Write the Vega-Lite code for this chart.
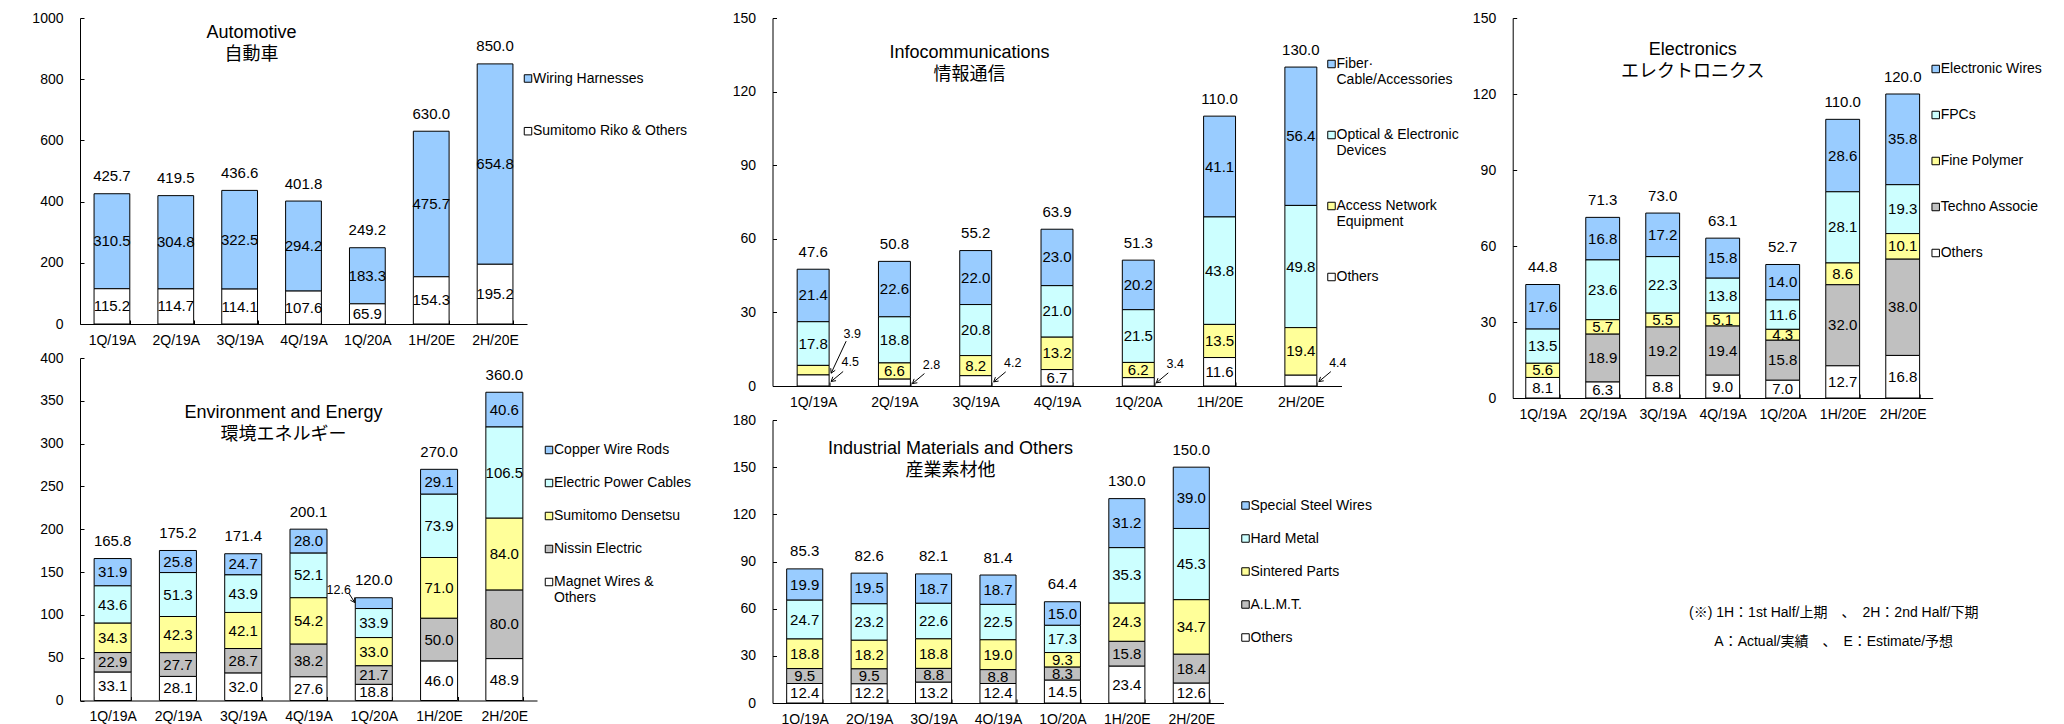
{
  "$schema": "https://vega.github.io/schema/vega-lite/v6.json",
  "padding": {"left": 31, "top": 11, "right": 0, "bottom": 0},
  "background": "white",
  "config": {
    "font": "Liberation Sans, Noto Sans CJK JP, sans-serif",
    "view": {"stroke": null},
    "axis": {"labelFont": "Liberation Sans, Noto Sans CJK JP, sans-serif", "labelFontSize": 14, "labelColor": "#000", "domainColor": "#000", "tickColor": "#000", "grid": false, "title": null, "tickSize": -4, "domainWidth": 1, "tickWidth": 1},
    "axisX": {"labelAngle": 0, "tickBand": "extent", "labelPadding": 13},
    "axisY": {"labelPadding": 21, "format": "d"},
    "legend": {"title": null, "labelFont": "Liberation Sans, Noto Sans CJK JP, sans-serif", "labelFontSize": 14, "labelColor": "#000", "symbolType": "square", "symbolSize": 56, "symbolStrokeColor": "#000", "symbolStrokeWidth": 1, "labelOffset": -2, "padding": 0, "labelLimit": 300},
    "title": {"font": "Liberation Sans, Noto Sans CJK JP, sans-serif", "fontSize": 18, "fontWeight": "normal", "color": "#000", "lineHeight": 22, "anchor": "middle", "frame": "group", "baseline": "top", "offset": 0},
    "text": {"font": "Liberation Sans, Noto Sans CJK JP, sans-serif", "fontSize": 15, "color": "#000"},
    "bar": {"stroke": "#000", "strokeWidth": 1}
  },
  "datasets": {
    "auto": [
      {"period": "1Q/19A", "segment": "Wiring Harnesses", "value": 310.5},
      {"period": "1Q/19A", "segment": "Sumitomo Riko & Others", "value": 115.2},
      {"period": "2Q/19A", "segment": "Wiring Harnesses", "value": 304.8},
      {"period": "2Q/19A", "segment": "Sumitomo Riko & Others", "value": 114.7},
      {"period": "3Q/19A", "segment": "Wiring Harnesses", "value": 322.5},
      {"period": "3Q/19A", "segment": "Sumitomo Riko & Others", "value": 114.1},
      {"period": "4Q/19A", "segment": "Wiring Harnesses", "value": 294.2},
      {"period": "4Q/19A", "segment": "Sumitomo Riko & Others", "value": 107.6},
      {"period": "1Q/20A", "segment": "Wiring Harnesses", "value": 183.3},
      {"period": "1Q/20A", "segment": "Sumitomo Riko & Others", "value": 65.9},
      {"period": "1H/20E", "segment": "Wiring Harnesses", "value": 475.7},
      {"period": "1H/20E", "segment": "Sumitomo Riko & Others", "value": 154.3},
      {"period": "2H/20E", "segment": "Wiring Harnesses", "value": 654.8},
      {"period": "2H/20E", "segment": "Sumitomo Riko & Others", "value": 195.2}
    ],
    "env": [
      {"period": "1Q/19A", "segment": "Copper Wire Rods", "value": 31.9},
      {"period": "1Q/19A", "segment": "Electric Power Cables", "value": 43.6},
      {"period": "1Q/19A", "segment": "Sumitomo Densetsu", "value": 34.3},
      {"period": "1Q/19A", "segment": "Nissin Electric", "value": 22.9},
      {"period": "1Q/19A", "segment": "Magnet Wires & Others", "value": 33.1},
      {"period": "2Q/19A", "segment": "Copper Wire Rods", "value": 25.8},
      {"period": "2Q/19A", "segment": "Electric Power Cables", "value": 51.3},
      {"period": "2Q/19A", "segment": "Sumitomo Densetsu", "value": 42.3},
      {"period": "2Q/19A", "segment": "Nissin Electric", "value": 27.7},
      {"period": "2Q/19A", "segment": "Magnet Wires & Others", "value": 28.1},
      {"period": "3Q/19A", "segment": "Copper Wire Rods", "value": 24.7},
      {"period": "3Q/19A", "segment": "Electric Power Cables", "value": 43.9},
      {"period": "3Q/19A", "segment": "Sumitomo Densetsu", "value": 42.1},
      {"period": "3Q/19A", "segment": "Nissin Electric", "value": 28.7},
      {"period": "3Q/19A", "segment": "Magnet Wires & Others", "value": 32.0},
      {"period": "4Q/19A", "segment": "Copper Wire Rods", "value": 28.0},
      {"period": "4Q/19A", "segment": "Electric Power Cables", "value": 52.1},
      {"period": "4Q/19A", "segment": "Sumitomo Densetsu", "value": 54.2},
      {"period": "4Q/19A", "segment": "Nissin Electric", "value": 38.2},
      {"period": "4Q/19A", "segment": "Magnet Wires & Others", "value": 27.6},
      {"period": "1Q/20A", "segment": "Copper Wire Rods", "value": 12.6},
      {"period": "1Q/20A", "segment": "Electric Power Cables", "value": 33.9},
      {"period": "1Q/20A", "segment": "Sumitomo Densetsu", "value": 33.0},
      {"period": "1Q/20A", "segment": "Nissin Electric", "value": 21.7},
      {"period": "1Q/20A", "segment": "Magnet Wires & Others", "value": 18.8},
      {"period": "1H/20E", "segment": "Copper Wire Rods", "value": 29.1},
      {"period": "1H/20E", "segment": "Electric Power Cables", "value": 73.9},
      {"period": "1H/20E", "segment": "Sumitomo Densetsu", "value": 71.0},
      {"period": "1H/20E", "segment": "Nissin Electric", "value": 50.0},
      {"period": "1H/20E", "segment": "Magnet Wires & Others", "value": 46.0},
      {"period": "2H/20E", "segment": "Copper Wire Rods", "value": 40.6},
      {"period": "2H/20E", "segment": "Electric Power Cables", "value": 106.5},
      {"period": "2H/20E", "segment": "Sumitomo Densetsu", "value": 84.0},
      {"period": "2H/20E", "segment": "Nissin Electric", "value": 80.0},
      {"period": "2H/20E", "segment": "Magnet Wires & Others", "value": 48.9}
    ],
    "info": [
      {"period": "1Q/19A", "segment": "Fiber·Cable/Accessories", "value": 21.4},
      {"period": "1Q/19A", "segment": "Optical & Electronic Devices", "value": 17.8},
      {"period": "1Q/19A", "segment": "Access Network Equipment", "value": 3.9},
      {"period": "1Q/19A", "segment": "Others", "value": 4.5},
      {"period": "2Q/19A", "segment": "Fiber·Cable/Accessories", "value": 22.6},
      {"period": "2Q/19A", "segment": "Optical & Electronic Devices", "value": 18.8},
      {"period": "2Q/19A", "segment": "Access Network Equipment", "value": 6.6},
      {"period": "2Q/19A", "segment": "Others", "value": 2.8},
      {"period": "3Q/19A", "segment": "Fiber·Cable/Accessories", "value": 22.0},
      {"period": "3Q/19A", "segment": "Optical & Electronic Devices", "value": 20.8},
      {"period": "3Q/19A", "segment": "Access Network Equipment", "value": 8.2},
      {"period": "3Q/19A", "segment": "Others", "value": 4.2},
      {"period": "4Q/19A", "segment": "Fiber·Cable/Accessories", "value": 23.0},
      {"period": "4Q/19A", "segment": "Optical & Electronic Devices", "value": 21.0},
      {"period": "4Q/19A", "segment": "Access Network Equipment", "value": 13.2},
      {"period": "4Q/19A", "segment": "Others", "value": 6.7},
      {"period": "1Q/20A", "segment": "Fiber·Cable/Accessories", "value": 20.2},
      {"period": "1Q/20A", "segment": "Optical & Electronic Devices", "value": 21.5},
      {"period": "1Q/20A", "segment": "Access Network Equipment", "value": 6.2},
      {"period": "1Q/20A", "segment": "Others", "value": 3.4},
      {"period": "1H/20E", "segment": "Fiber·Cable/Accessories", "value": 41.1},
      {"period": "1H/20E", "segment": "Optical & Electronic Devices", "value": 43.8},
      {"period": "1H/20E", "segment": "Access Network Equipment", "value": 13.5},
      {"period": "1H/20E", "segment": "Others", "value": 11.6},
      {"period": "2H/20E", "segment": "Fiber·Cable/Accessories", "value": 56.4},
      {"period": "2H/20E", "segment": "Optical & Electronic Devices", "value": 49.8},
      {"period": "2H/20E", "segment": "Access Network Equipment", "value": 19.4},
      {"period": "2H/20E", "segment": "Others", "value": 4.4}
    ],
    "ind": [
      {"period": "1Q/19A", "segment": "Special Steel Wires", "value": 19.9},
      {"period": "1Q/19A", "segment": "Hard Metal", "value": 24.7},
      {"period": "1Q/19A", "segment": "Sintered Parts", "value": 18.8},
      {"period": "1Q/19A", "segment": "A.L.M.T.", "value": 9.5},
      {"period": "1Q/19A", "segment": "Others", "value": 12.4},
      {"period": "2Q/19A", "segment": "Special Steel Wires", "value": 19.5},
      {"period": "2Q/19A", "segment": "Hard Metal", "value": 23.2},
      {"period": "2Q/19A", "segment": "Sintered Parts", "value": 18.2},
      {"period": "2Q/19A", "segment": "A.L.M.T.", "value": 9.5},
      {"period": "2Q/19A", "segment": "Others", "value": 12.2},
      {"period": "3Q/19A", "segment": "Special Steel Wires", "value": 18.7},
      {"period": "3Q/19A", "segment": "Hard Metal", "value": 22.6},
      {"period": "3Q/19A", "segment": "Sintered Parts", "value": 18.8},
      {"period": "3Q/19A", "segment": "A.L.M.T.", "value": 8.8},
      {"period": "3Q/19A", "segment": "Others", "value": 13.2},
      {"period": "4Q/19A", "segment": "Special Steel Wires", "value": 18.7},
      {"period": "4Q/19A", "segment": "Hard Metal", "value": 22.5},
      {"period": "4Q/19A", "segment": "Sintered Parts", "value": 19.0},
      {"period": "4Q/19A", "segment": "A.L.M.T.", "value": 8.8},
      {"period": "4Q/19A", "segment": "Others", "value": 12.4},
      {"period": "1Q/20A", "segment": "Special Steel Wires", "value": 15.0},
      {"period": "1Q/20A", "segment": "Hard Metal", "value": 17.3},
      {"period": "1Q/20A", "segment": "Sintered Parts", "value": 9.3},
      {"period": "1Q/20A", "segment": "A.L.M.T.", "value": 8.3},
      {"period": "1Q/20A", "segment": "Others", "value": 14.5},
      {"period": "1H/20E", "segment": "Special Steel Wires", "value": 31.2},
      {"period": "1H/20E", "segment": "Hard Metal", "value": 35.3},
      {"period": "1H/20E", "segment": "Sintered Parts", "value": 24.3},
      {"period": "1H/20E", "segment": "A.L.M.T.", "value": 15.8},
      {"period": "1H/20E", "segment": "Others", "value": 23.4},
      {"period": "2H/20E", "segment": "Special Steel Wires", "value": 39.0},
      {"period": "2H/20E", "segment": "Hard Metal", "value": 45.3},
      {"period": "2H/20E", "segment": "Sintered Parts", "value": 34.7},
      {"period": "2H/20E", "segment": "A.L.M.T.", "value": 18.4},
      {"period": "2H/20E", "segment": "Others", "value": 12.6}
    ],
    "elec": [
      {"period": "1Q/19A", "segment": "Electronic Wires", "value": 17.6},
      {"period": "1Q/19A", "segment": "FPCs", "value": 13.5},
      {"period": "1Q/19A", "segment": "Fine Polymer", "value": 5.6},
      {"period": "1Q/19A", "segment": "Others", "value": 8.1},
      {"period": "2Q/19A", "segment": "Electronic Wires", "value": 16.8},
      {"period": "2Q/19A", "segment": "FPCs", "value": 23.6},
      {"period": "2Q/19A", "segment": "Fine Polymer", "value": 5.7},
      {"period": "2Q/19A", "segment": "Techno Associe", "value": 18.9},
      {"period": "2Q/19A", "segment": "Others", "value": 6.3},
      {"period": "3Q/19A", "segment": "Electronic Wires", "value": 17.2},
      {"period": "3Q/19A", "segment": "FPCs", "value": 22.3},
      {"period": "3Q/19A", "segment": "Fine Polymer", "value": 5.5},
      {"period": "3Q/19A", "segment": "Techno Associe", "value": 19.2},
      {"period": "3Q/19A", "segment": "Others", "value": 8.8},
      {"period": "4Q/19A", "segment": "Electronic Wires", "value": 15.8},
      {"period": "4Q/19A", "segment": "FPCs", "value": 13.8},
      {"period": "4Q/19A", "segment": "Fine Polymer", "value": 5.1},
      {"period": "4Q/19A", "segment": "Techno Associe", "value": 19.4},
      {"period": "4Q/19A", "segment": "Others", "value": 9.0},
      {"period": "1Q/20A", "segment": "Electronic Wires", "value": 14.0},
      {"period": "1Q/20A", "segment": "FPCs", "value": 11.6},
      {"period": "1Q/20A", "segment": "Fine Polymer", "value": 4.3},
      {"period": "1Q/20A", "segment": "Techno Associe", "value": 15.8},
      {"period": "1Q/20A", "segment": "Others", "value": 7.0},
      {"period": "1H/20E", "segment": "Electronic Wires", "value": 28.6},
      {"period": "1H/20E", "segment": "FPCs", "value": 28.1},
      {"period": "1H/20E", "segment": "Fine Polymer", "value": 8.6},
      {"period": "1H/20E", "segment": "Techno Associe", "value": 32.0},
      {"period": "1H/20E", "segment": "Others", "value": 12.7},
      {"period": "2H/20E", "segment": "Electronic Wires", "value": 35.8},
      {"period": "2H/20E", "segment": "FPCs", "value": 19.3},
      {"period": "2H/20E", "segment": "Fine Polymer", "value": 10.1},
      {"period": "2H/20E", "segment": "Techno Associe", "value": 38.0},
      {"period": "2H/20E", "segment": "Others", "value": 16.8}
    ],
    "note": [
      {"line": 1, "text": "(※) 1H：1st Half/上期　、　2H：2nd Half/下期"},
      {"line": 2, "text": "A：Actual/実績　、　E：Estimate/予想"}
    ]
  },
  "hconcat": [
    {
      "hconcat": [
        {
          "vconcat": [
            {
              "width": 447, "height": 306,
              "data": {"name": "auto"},
              "transform": [{"window": [{"op": "row_number", "as": "rank"}], "groupby": ["period"]}],
              "title": {"text": ["Automotive", "自動車"], "dx": -52, "dy": 56.5},
              "encoding": {"x": {"field": "period", "type": "nominal", "sort": ["1Q/19A","2Q/19A","3Q/19A","4Q/19A","1Q/20A","1H/20E","2H/20E"], "scale": {"paddingInner": 0.44, "paddingOuter": 0.22}}},
              "layer": [
                {"mark": {"type": "bar"},
                 "encoding": {
                   "y": {"field": "value", "type": "quantitative", "stack": "zero", "scale": {"domain": [0, 1000], "nice": false}, "axis": {"values": [0, 200, 400, 600, 800, 1000]}},
                   "order": {"field": "rank", "type": "quantitative", "sort": "descending"},
                   "color": {"field": "segment", "type": "nominal", "scale": {"domain": ["Wiring Harnesses", "Sumitomo Riko & Others"], "range": ["#99CCFF", "#FFFFFF"]}, "legend": {"orient": "none", "legendX": 441, "legendY": 53.5, "rowPadding": 38.7}}
                 }},
                {"mark": {"type": "text"},
                 "encoding": {
                   "y": {"field": "value", "type": "quantitative", "stack": "zero", "bandPosition": 0.5},
                   "order": {"field": "rank", "type": "quantitative", "sort": "descending"},
                   "color": {"field": "segment", "type": "nominal", "scale": {"range": ["#000000"]}, "legend": null},
                   "text": {"field": "value", "type": "quantitative", "format": ".1f"}
                 }},
                {"mark": {"type": "text", "dy": -17.5},
                 "encoding": {
                   "y": {"aggregate": "sum", "field": "value", "type": "quantitative"},
                   "text": {"aggregate": "sum", "field": "value", "type": "quantitative", "format": ".1f"}
                 }}
              ],
              "resolve": {"scale": {"color": "independent"}}
            },
            {
              "width": 457, "height": 342.5,
              "data": {"name": "env"},
              "transform": [{"window": [{"op": "row_number", "as": "rank"}], "groupby": ["period"]}],
              "title": {"text": ["Environment and Energy", "環境エネルギー"], "dx": -25, "dy": 97},
              "encoding": {"x": {"field": "period", "type": "nominal", "sort": ["1Q/19A","2Q/19A","3Q/19A","4Q/19A","1Q/20A","1H/20E","2H/20E"], "scale": {"paddingInner": 0.433, "paddingOuter": 0.2165}}},
              "layer": [
                {"mark": {"type": "bar"},
                 "encoding": {
                   "y": {"field": "value", "type": "quantitative", "stack": "zero", "scale": {"domain": [0, 400], "nice": false}, "axis": {"values": [0, 50, 100, 150, 200, 250, 300, 350, 400]}},
                   "order": {"field": "rank", "type": "quantitative", "sort": "descending"},
                   "color": {"field": "segment", "type": "nominal", "scale": {"domain": ["Copper Wire Rods", "Electric Power Cables", "Sumitomo Densetsu", "Nissin Electric", "Magnet Wires & Others"], "range": ["#99CCFF", "#CCFFFF", "#FFFF99", "#C0C0C0", "#FFFFFF"]}, "legend": {"orient": "none", "legendX": 462, "legendY": 85, "rowPadding": 19, "labelExpr": "datum.label == 'Magnet Wires & Others' ? ['Magnet Wires &', 'Others'] : datum.label"}}
                 }},
                {"mark": {"type": "text"},
                 "encoding": {
                   "y": {"field": "value", "type": "quantitative", "stack": "zero", "bandPosition": 0.5},
                   "order": {"field": "rank", "type": "quantitative", "sort": "descending"},
                   "color": {"field": "segment", "type": "nominal", "scale": {"range": ["#000000"]}, "legend": null},
                   "text": {"condition": {"test": "datum.value < 13", "value": ""}, "field": "value", "type": "quantitative", "format": ".1f"}
                 }},
                {"mark": {"type": "text", "fontSize": 12.5, "dx": -35, "dy": -13},
                 "encoding": {
                   "y": {"field": "value", "type": "quantitative", "stack": "zero", "bandPosition": 0.5},
                   "order": {"field": "rank", "type": "quantitative", "sort": "descending"},
                   "color": {"field": "segment", "type": "nominal", "scale": {"range": ["#000000"]}, "legend": null},
                   "text": {"condition": {"test": "datum.value < 13", "field": "value", "type": "quantitative", "format": ".1f"}, "value": ""}
                 }},
                {"mark": {"type": "point", "shape": "M-25,-10L-19,-0.6M-19.2,-5.6L-19,-0.6L-23.4,-2.9", "size": 4, "filled": false, "strokeWidth": 1},
                 "encoding": {
                   "y": {"field": "value", "type": "quantitative", "stack": "zero", "bandPosition": 0.5},
                   "order": {"field": "rank", "type": "quantitative", "sort": "descending"},
                   "color": {"field": "segment", "type": "nominal", "scale": {"range": ["#000000"]}, "legend": null},
                   "opacity": {"condition": {"test": "datum.value < 13", "value": 1}, "value": 0}
                 }},
                {"mark": {"type": "text", "dy": -17.5},
                 "encoding": {
                   "y": {"aggregate": "sum", "field": "value", "type": "quantitative"},
                   "text": {"aggregate": "sum", "field": "value", "type": "quantitative", "format": ".1f"}
                 }}
              ],
              "resolve": {"scale": {"color": "independent"}}
            }
          ],
          "bounds": "flush",
          "spacing": 34,
          "resolve": {"scale": {"color": "independent", "x": "independent", "y": "independent"}, "legend": {"color": "independent"}}
        },
        {
          "vconcat": [
            {
              "width": 569, "height": 368,
              "data": {"name": "info"},
              "transform": [{"window": [{"op": "row_number", "as": "rank"}], "groupby": ["period"]}],
              "title": {"text": ["Infocommunications", "情報通信"], "dx": -87.5, "dy": 76.5},
              "encoding": {"x": {"field": "period", "type": "nominal", "sort": ["1Q/19A","2Q/19A","3Q/19A","4Q/19A","1Q/20A","1H/20E","2H/20E"], "scale": {"paddingInner": 0.607, "paddingOuter": 0.3035}}},
              "layer": [
                {"mark": {"type": "bar"},
                 "encoding": {
                   "y": {"field": "value", "type": "quantitative", "stack": "zero", "scale": {"domain": [0, 150], "nice": false}, "axis": {"values": [0, 30, 60, 90, 120, 150]}},
                   "order": {"field": "rank", "type": "quantitative", "sort": "descending"},
                   "color": {"field": "segment", "type": "nominal", "scale": {"domain": ["Fiber·Cable/Accessories", "Optical & Electronic Devices", "Access Network Equipment", "Others"], "range": ["#99CCFF", "#CCFFFF", "#FFFF99", "#FFFFFF"]}, "legend": {"orient": "none", "legendX": 552, "legendY": 39, "rowPadding": 41, "labelExpr": "datum.label == 'Fiber·Cable/Accessories' ? ['Fiber·', 'Cable/Accessories'] : datum.label == 'Optical & Electronic Devices' ? ['Optical & Electronic', 'Devices'] : datum.label == 'Access Network Equipment' ? ['Access Network', 'Equipment'] : datum.label"}}
                 }},
                {"mark": {"type": "text"},
                 "encoding": {
                   "y": {"field": "value", "type": "quantitative", "stack": "zero", "bandPosition": 0.5},
                   "order": {"field": "rank", "type": "quantitative", "sort": "descending"},
                   "color": {"field": "segment", "type": "nominal", "scale": {"range": ["#000000"]}, "legend": null},
                   "text": {"condition": {"test": "datum.value < 5", "value": ""}, "field": "value", "type": "quantitative", "format": ".1f"}
                 }},
                {"mark": {"type": "text", "fontSize": 12.5, "dx": 37, "dy": -18},
                 "encoding": {
                   "y": {"field": "value", "type": "quantitative", "stack": "zero", "bandPosition": 0.5},
                   "order": {"field": "rank", "type": "quantitative", "sort": "descending"},
                   "color": {"field": "segment", "type": "nominal", "scale": {"range": ["#000000"]}, "legend": null},
                   "text": {"condition": {"test": "datum.value < 5 && datum.segment == 'Others'", "field": "value", "type": "quantitative", "format": ".1f"}, "value": ""}
                 }},
                {"mark": {"type": "text", "fontSize": 12.5, "dx": 39, "dy": -36},
                 "encoding": {
                   "y": {"field": "value", "type": "quantitative", "stack": "zero", "bandPosition": 0.5},
                   "order": {"field": "rank", "type": "quantitative", "sort": "descending"},
                   "color": {"field": "segment", "type": "nominal", "scale": {"range": ["#000000"]}, "legend": null},
                   "text": {"condition": {"test": "datum.value < 5 && datum.segment == 'Access Network Equipment'", "field": "value", "type": "quantitative", "format": ".1f"}, "value": ""}
                 }},
                {"mark": {"type": "point", "shape": "M30,-9L18,1M22.9,0.2L18,1L19.7,-3.7", "size": 4, "filled": false, "strokeWidth": 1},
                 "encoding": {
                   "y": {"field": "value", "type": "quantitative", "stack": "zero", "bandPosition": 0.5},
                   "order": {"field": "rank", "type": "quantitative", "sort": "descending"},
                   "color": {"field": "segment", "type": "nominal", "scale": {"range": ["#000000"]}, "legend": null},
                   "opacity": {"condition": {"test": "datum.value < 5 && datum.segment == 'Others'", "value": 1}, "value": 0}
                 }},
                {"mark": {"type": "point", "shape": "M33,-29L18,3M22.1,0.1L18,3L17.6,-2", "size": 4, "filled": false, "strokeWidth": 1},
                 "encoding": {
                   "y": {"field": "value", "type": "quantitative", "stack": "zero", "bandPosition": 0.5},
                   "order": {"field": "rank", "type": "quantitative", "sort": "descending"},
                   "color": {"field": "segment", "type": "nominal", "scale": {"range": ["#000000"]}, "legend": null},
                   "opacity": {"condition": {"test": "datum.value < 5 && datum.segment == 'Access Network Equipment'", "value": 1}, "value": 0}
                 }},
                {"mark": {"type": "text", "dy": -17.5},
                 "encoding": {
                   "y": {"aggregate": "sum", "field": "value", "type": "quantitative"},
                   "text": {"aggregate": "sum", "field": "value", "type": "quantitative", "format": ".1f"}
                 }}
              ],
              "resolve": {"scale": {"color": "independent"}}
            },
            {
              "width": 451, "height": 283,
              "data": {"name": "ind"},
              "transform": [{"window": [{"op": "row_number", "as": "rank"}], "groupby": ["period"]}],
              "title": {"text": ["Industrial Materials and Others", "産業素材他"], "dx": -47.5, "dy": 70.5},
              "encoding": {"x": {"field": "period", "type": "nominal", "sort": ["1Q/19A","2Q/19A","3Q/19A","4Q/19A","1Q/20A","1H/20E","2H/20E"], "scale": {"paddingInner": 0.44, "paddingOuter": 0.22}}},
              "layer": [
                {"mark": {"type": "bar"},
                 "encoding": {
                   "y": {"field": "value", "type": "quantitative", "stack": "zero", "scale": {"domain": [0, 180], "nice": false}, "axis": {"values": [0, 30, 60, 90, 120, 150, 180]}},
                   "order": {"field": "rank", "type": "quantitative", "sort": "descending"},
                   "color": {"field": "segment", "type": "nominal", "scale": {"domain": ["Special Steel Wires", "Hard Metal", "Sintered Parts", "A.L.M.T.", "Others"], "range": ["#99CCFF", "#CCFFFF", "#FFFF99", "#C0C0C0", "#FFFFFF"]}, "legend": {"orient": "none", "legendX": 466, "legendY": 78.5, "rowPadding": 19}}
                 }},
                {"mark": {"type": "text"},
                 "encoding": {
                   "y": {"field": "value", "type": "quantitative", "stack": "zero", "bandPosition": 0.5},
                   "order": {"field": "rank", "type": "quantitative", "sort": "descending"},
                   "color": {"field": "segment", "type": "nominal", "scale": {"range": ["#000000"]}, "legend": null},
                   "text": {"field": "value", "type": "quantitative", "format": ".1f"}
                 }},
                {"mark": {"type": "text", "dy": -17.5},
                 "encoding": {
                   "y": {"aggregate": "sum", "field": "value", "type": "quantitative"},
                   "text": {"aggregate": "sum", "field": "value", "type": "quantitative", "format": ".1f"}
                 }}
              ],
              "resolve": {"scale": {"color": "independent"}}
            }
          ],
          "bounds": "flush",
          "spacing": 34,
          "resolve": {"scale": {"color": "independent", "x": "independent", "y": "independent"}, "legend": {"color": "independent"}}
        }
      ],
      "spacing": 40.5,
      "resolve": {"scale": {"color": "independent", "x": "independent", "y": "independent"}, "legend": {"color": "independent"}}
    },
    {
      "vconcat": [
        {
          "width": 420, "height": 380,
          "data": {"name": "elec"},
          "transform": [{"window": [{"op": "row_number", "as": "rank"}], "groupby": ["period"]}],
          "title": {"text": ["Electronics", "エレクトロニクス"], "dx": -30, "dy": 73.5},
          "encoding": {"x": {"field": "period", "type": "nominal", "sort": ["1Q/19A","2Q/19A","3Q/19A","4Q/19A","1Q/20A","1H/20E","2H/20E"], "scale": {"paddingInner": 0.436, "paddingOuter": 0.218}}},
          "layer": [
            {"mark": {"type": "bar"},
             "encoding": {
               "y": {"field": "value", "type": "quantitative", "stack": "zero", "scale": {"domain": [0, 150], "nice": false}, "axis": {"values": [0, 30, 60, 90, 120, 150]}},
               "order": {"field": "rank", "type": "quantitative", "sort": "descending"},
               "color": {"field": "segment", "type": "nominal", "scale": {"domain": ["Electronic Wires", "FPCs", "Fine Polymer", "Techno Associe", "Others"], "range": ["#99CCFF", "#CCFFFF", "#FFFF99", "#C0C0C0", "#FFFFFF"]}, "legend": {"orient": "none", "legendX": 416, "legendY": 44, "rowPadding": 32}}
             }},
            {"mark": {"type": "text"},
             "encoding": {
               "y": {"field": "value", "type": "quantitative", "stack": "zero", "bandPosition": 0.5},
               "order": {"field": "rank", "type": "quantitative", "sort": "descending"},
               "color": {"field": "segment", "type": "nominal", "scale": {"range": ["#000000"]}, "legend": null},
               "text": {"field": "value", "type": "quantitative", "format": ".1f"}
             }},
            {"mark": {"type": "text", "dy": -17.5},
             "encoding": {
               "y": {"aggregate": "sum", "field": "value", "type": "quantitative"},
               "text": {"aggregate": "sum", "field": "value", "type": "quantitative", "format": ".1f"}
             }}
          ],
          "resolve": {"scale": {"color": "independent"}}
        },
        {
          "width": 420, "height": 58,
          "data": {"name": "note"},
          "mark": {"type": "text", "fontSize": 14, "dx": 111, "align": "center", "baseline": "middle"},
          "encoding": {
            "y": {"field": "line", "type": "ordinal", "axis": null},
            "text": {"field": "text", "type": "nominal"}
          }
        }
      ],
      "bounds": "flush",
      "spacing": 200,
      "resolve": {"scale": {"color": "independent", "x": "independent", "y": "independent"}, "legend": {"color": "independent"}}
    }
  ],
  "spacing": 11.7,
  "resolve": {"scale": {"color": "independent", "x": "independent", "y": "independent"}, "legend": {"color": "independent"}}
}
